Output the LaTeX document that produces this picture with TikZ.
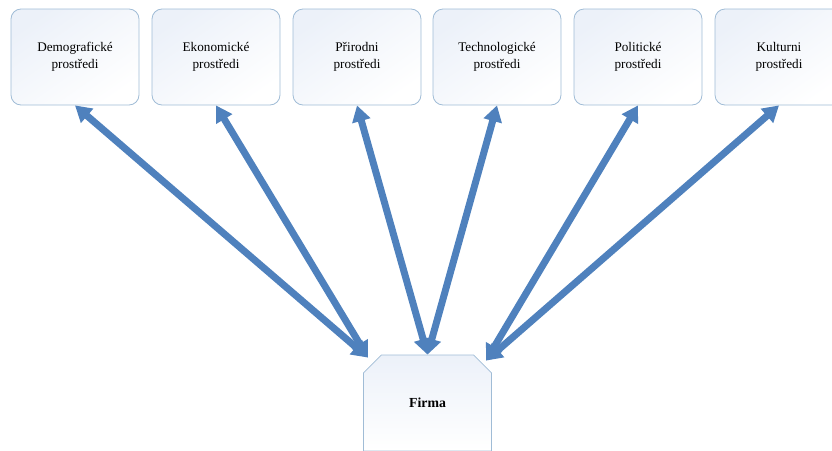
\documentclass[tikz,border=0pt]{standalone}
\usepackage{fontspec}
\setmainfont{Liberation Serif}
\usetikzlibrary{arrows.meta,shapes.misc}
\definecolor{boxline}{RGB}{160,188,214}
\definecolor{boxtop}{RGB}{236,241,249}
\definecolor{linkblue}{RGB}{79,129,189}
\tikzset{
  envbox/.style={draw=boxline, line width=0.8pt, rounded corners=10pt,
    top color=boxtop, bottom color=white, shading angle=35,
    minimum width=128pt, minimum height=96pt, align=center,
    font=\fontsize{13.2}{17}\selectfont},
  firmabox/.style={chamfered rectangle, chamfered rectangle xsep=7pt,
    chamfered rectangle ysep=13pt,
    chamfered rectangle corners={north west,north east},
    draw=boxline, line width=0.8pt,
    top color=boxtop, bottom color=white,
    minimum width=128pt, minimum height=96pt, inner sep=0pt,
    font=\fontsize{13.8}{17}\selectfont\bfseries},
  link/.style={draw=linkblue, line width=7pt,
    {Triangle[length=16pt,width=18pt]}-{Triangle[length=16pt,width=18pt]}}
}
\begin{document}
\begin{tikzpicture}[x=1pt,y=1pt]
  \clip (0,0) rectangle (832,-450);
  % environment boxes
  \node[envbox] (demo) at (75,-57) {Demografické\\prostředi};
  \node[envbox] (ekon) at (216,-57) {Ekonomické\\prostředi};
  \node[envbox] (prir) at (357,-57) {Přirodni\\prostředi};
  \node[envbox] (tech) at (497,-57) {Technologické\\prostředi};
  \node[envbox] (poli) at (638,-57) {Politické\\prostředi};
  \node[envbox] (kult) at (779,-57) {Kulturni\\prostředi};
  % the firm
  \node[firmabox] (firma) at (427.5,-403) {Firma};
  \coordinate (firmaL) at ([shift={(-59.5,-3)}]firma.north);
  \coordinate (firmaR) at ([shift={(58.5,-6)}]firma.north);
  % links
  \draw[link] (demo.south) -- (firmaL);
  \draw[link] (ekon.south) -- (firmaL);
  \draw[link] (prir.south) -- (firma.north);
  \draw[link] (tech.south) -- (firma.north);
  \draw[link] (poli.south) -- (firmaR);
  \draw[link] (kult.south) -- (firmaR);
\end{tikzpicture}
\end{document}
